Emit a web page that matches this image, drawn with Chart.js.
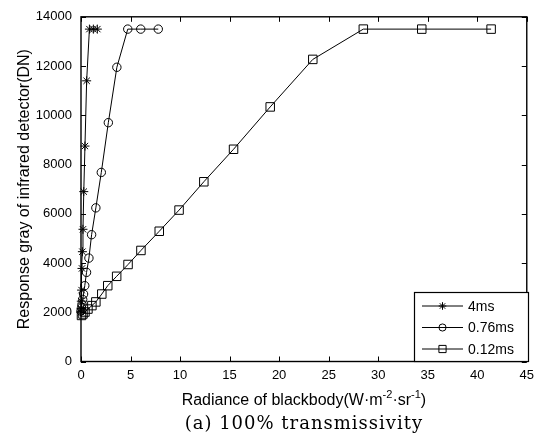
<!DOCTYPE html>
<html>
<head>
<meta charset="utf-8">
<script src="https://cdn.jsdelivr.net/npm/chart.js@4"></script>
<style>
  html, body { margin: 0; padding: 0; background: #fff; }
  canvas { display: block; }
</style>
</head>
<body>
<canvas id="respChart" width="540" height="437"></canvas>
<script>
// Data
const seriesNames = ['4ms', '0.76ms', '0.12ms'];

const x4ms = [0.0, 0.01, 0.03, 0.06, 0.1, 0.14, 0.2, 0.28, 0.4, 0.57, 0.85, 1.25, 1.65];
const y4ms = [2000, 2150, 2450, 2900, 3780, 4460, 5370, 6900, 8750, 11400, 13500, 13500, 13500];

const x076 = [0.0, 0.05, 0.1, 0.17, 0.26, 0.38, 0.56, 0.8, 1.07, 1.5, 2.05, 2.76, 3.62, 4.72, 6.03, 7.8];
const y076 = [2050, 2180, 2320, 2520, 2740, 3080, 3620, 4200, 5150, 6240, 7680, 9700, 11950, 13500, 13500, 13500];

const x012 = [0.05, 0.2, 0.4, 0.7, 1.1, 1.5, 2.1, 2.7, 3.6, 4.75, 6.05, 7.9, 9.9, 12.4, 15.4, 19.1, 23.4, 28.5, 34.4, 41.4];
const y012 = [1870, 1930, 2010, 2130, 2270, 2420, 2740, 3080, 3460, 3940, 4510, 5290, 6150, 7300, 8620, 10340, 12270, 13500, 13500, 13500];

const xTicks = [0, 5, 10, 15, 20, 25, 30, 35, 40, 45];
const yTicks = [0, 2000, 4000, 6000, 8000, 10000, 12000, 14000];

const pts = (xs, ys) => xs.map((x, i) => ({ x: x, y: ys[i] }));

const sans = '"Liberation Sans", Arial, Helvetica, sans-serif';

function makeSet(label, data, style, radius) {
    return {
        label: label,
        data: data,
        borderColor: '#000',
        borderWidth: 1,
        pointStyle: style,
        pointRadius: radius,
        pointBorderColor: '#000',
        pointBackgroundColor: 'rgba(0,0,0,0)',
        pointBorderWidth: 1,
        tension: 0,
        clip: false
    };
}

// frame, inward ticks, titles and legend
const decor = {
    id: 'decor',
    afterDraw(chart) {
        const ctx = chart.ctx;
        const a = chart.chartArea;
        const xs = chart.scales.x, ys = chart.scales.y;
        ctx.save();
        ctx.strokeStyle = '#000';
        ctx.lineWidth = 1;
        ctx.beginPath();
        xTicks.forEach(v => {
            const px = Math.round(xs.getPixelForValue(v)) + 0.5;
            ctx.moveTo(px, a.bottom); ctx.lineTo(px, a.bottom - 5);
            ctx.moveTo(px, a.top); ctx.lineTo(px, a.top + 5);
        });
        yTicks.forEach(v => {
            const py = Math.round(ys.getPixelForValue(v)) + 0.5;
            ctx.moveTo(a.left, py); ctx.lineTo(a.left + 5, py);
            ctx.moveTo(a.right, py); ctx.lineTo(a.right - 5, py);
        });
        ctx.stroke();
        ctx.lineWidth = 1.4;
        ctx.strokeRect(a.left, a.top, a.right - a.left, a.bottom - a.top);

        // x title with superscripts
        ctx.fillStyle = '#000';
        ctx.textBaseline = 'alphabetic';
        ctx.textAlign = 'left';
        const parts = [['Radiance of blackbody(W\u00b7m', 0], ['-2', 1], ['\u00b7sr', 0], ['-1', 1], [')', 0]];
        const big = '16px ' + sans, small = '11px ' + sans;
        let w = 0;
        parts.forEach(p => { ctx.font = p[1] ? small : big; w += ctx.measureText(p[0]).width; });
        let cx = (a.left + a.right) / 2 - w / 2;
        const base = 405;
        parts.forEach(p => {
            ctx.font = p[1] ? small : big;
            ctx.fillText(p[0], cx, p[1] ? base - 7 : base);
            cx += ctx.measureText(p[0]).width;
        });

        // caption
        ctx.font = '18px "DejaVu Serif", serif';
        ctx.letterSpacing = '1px';
        ctx.textAlign = 'center';
        ctx.fillText('(a) 100% transmissivity', (a.left + a.right) / 2, 429);
        ctx.letterSpacing = '0px';

        // y title
        ctx.save();
        ctx.translate(25, (a.top + a.bottom) / 2);
        ctx.rotate(-Math.PI / 2);
        ctx.font = '16px ' + sans;
        ctx.textAlign = 'center';
        ctx.textBaseline = 'middle';
        ctx.fillText('Response gray of infrared detector(DN)', 0, 0);
        ctx.restore();

        // legend
        const lx = 414, ly = 292, lw = 114, lh = 69;
        ctx.fillStyle = '#fff';
        ctx.fillRect(lx, ly, lw, lh);
        ctx.lineWidth = 1.2;
        ctx.strokeRect(lx + 0.5, ly + 0.5, lw, lh);
        ctx.font = '14px ' + sans;
        ctx.textAlign = 'left';
        ctx.textBaseline = 'middle';
        chart.data.datasets.forEach((ds, i) => {
            const ry = ly + 14 + i * 21.5;
            ctx.strokeStyle = '#000';
            ctx.lineWidth = 1;
            ctx.beginPath();
            ctx.moveTo(lx + 8, ry); ctx.lineTo(lx + 49, ry);
            ctx.stroke();
            ctx.fillStyle = 'rgba(0,0,0,0)';
            Chart.helpers.drawPoint(ctx, {
                pointStyle: ds.pointStyle, radius: ds.pointRadius * 0.85, rotation: 0, borderWidth: 1
            }, lx + 28.5, ry);
            ctx.fillStyle = '#000';
            ctx.fillText(ds.label, lx + 54, ry + 1);
        });
        ctx.restore();
    }
};

const respCtx = document.getElementById('respChart').getContext('2d');
new Chart(respCtx, {
    type: 'line',
    data: {
        datasets: [
            makeSet(seriesNames[0], pts(x4ms, y4ms), 'star', 4.5),
            makeSet(seriesNames[1], pts(x076, y076), 'circle', 4.2),
            makeSet(seriesNames[2], pts(x012, y012), 'rect', 6)
        ]
    },
    options: {
        responsive: false,
        animation: false,
        devicePixelRatio: 1,
        layout: { padding: { top: 10, right: 11.7, bottom: 0, left: 0 } },
        scales: {
            x: {
                type: 'linear',
                min: 0,
                max: 45,
                afterFit(scale) { scale.height = 75.5; },
                afterBuildTicks(scale) { scale.ticks = xTicks.map(v => ({ value: v })); },
                grid: { display: false, drawTicks: false },
                border: { display: false },
                ticks: { color: '#000', padding: 6, font: { size: 13, family: sans }, callback: v => String(v) }
            },
            y: {
                type: 'linear',
                min: 0,
                max: 14000,
                afterFit(scale) { scale.width = 81; },
                afterBuildTicks(scale) { scale.ticks = yTicks.map(v => ({ value: v })); },
                grid: { display: false, drawTicks: false },
                border: { display: false },
                ticks: { color: '#000', padding: 9, font: { size: 13, family: sans }, callback: v => String(v) }
            }
        },
        plugins: {
            legend: { display: false },
            tooltip: { enabled: false }
        }
    },
    plugins: [decor]
});
</script>
</body>
</html>
